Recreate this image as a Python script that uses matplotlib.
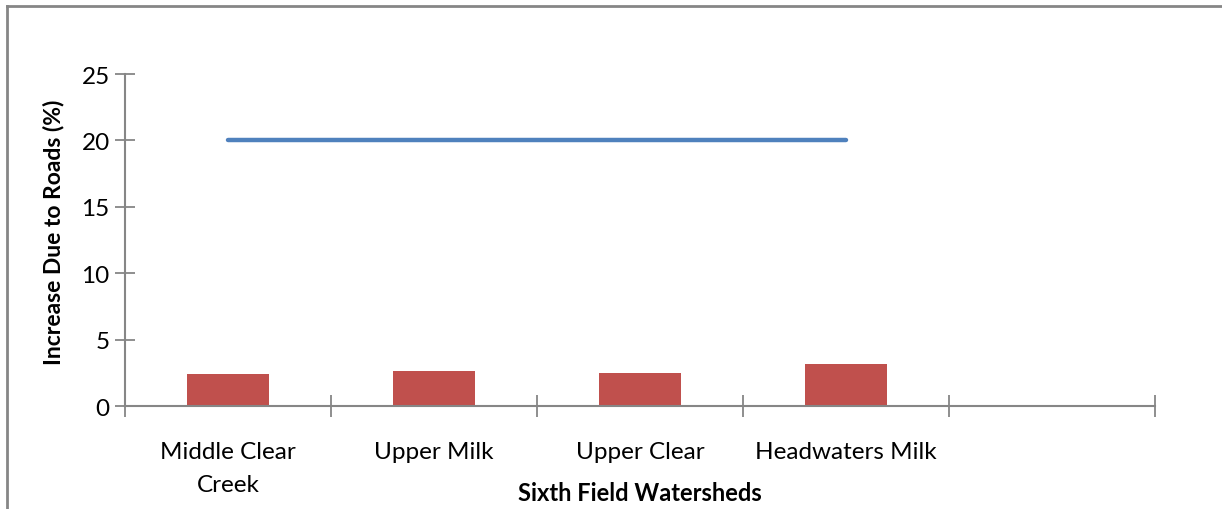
import matplotlib.pyplot as plt
from matplotlib.lines import Line2D

categories = ["Middle Clear\nCreek", "Upper Milk", "Upper Clear", "Headwaters Milk", ""]
increase = [2.4, 2.6, 2.5, 3.2]
threshold = [20, 20, 20, 20]

plt.rcParams['font.family'] = ['Lato', 'DejaVu Sans']
grey = "#868686"

fig = plt.figure(figsize=(12.22, 5.10), dpi=100)
ax = fig.add_axes([125 / 1222, 1 - 407 / 510, 1030 / 1222, 332 / 510])

xpos = list(range(len(increase)))
ax.bar(xpos, increase, width=0.4, color="#C0504D", zorder=2)
ax.plot(xpos, threshold, color="#4F81BD", lw=3.2, solid_capstyle="round", zorder=3)

ax.set_xlim(-0.5, len(categories) - 0.5)
ax.set_ylim(0, 25)
ax.set_yticks([0, 5, 10, 15, 20, 25])

# ticks sit between categories, labels in the middle
ax.set_xticks([i - 0.5 for i in range(len(categories) + 1)])
ax.set_xticklabels([])
ax.set_xticks(range(len(categories)), minor=True)
ax.set_xticklabels(categories, minor=True, fontsize=17.5, linespacing=1.7)
ax.tick_params(axis="x", which="minor", length=0, pad=25)
ax.tick_params(axis="x", which="major", direction="inout", length=16, width=1.3, color=grey)
ax.tick_params(axis="y", direction="inout", length=14, width=1.3, color=grey, labelsize=17.5, pad=4)

for s in ["top", "right"]:
    ax.spines[s].set_visible(False)
for s in ["left", "bottom"]:
    ax.spines[s].set_color(grey)
    ax.spines[s].set_linewidth(1.5)

ax.set_ylabel("Increase Due to Roads (%)", fontsize=16.5, fontweight="bold")
ax.yaxis.set_label_coords(-0.059, 0.527)
ax.set_xlabel("Sixth Field Watersheds", fontsize=17, fontweight="bold", labelpad=-10)

# outer chart frame, only left and top edges fall inside the image
fx = 7 / 1222
fy = 1 - 7 / 510
fig.add_artist(Line2D([fx, fx], [0, fy], transform=fig.transFigure, color=grey, lw=2))
fig.add_artist(Line2D([fx, 1], [fy, fy], transform=fig.transFigure, color=grey, lw=2))

fig.savefig("out.png", dpi=100)
